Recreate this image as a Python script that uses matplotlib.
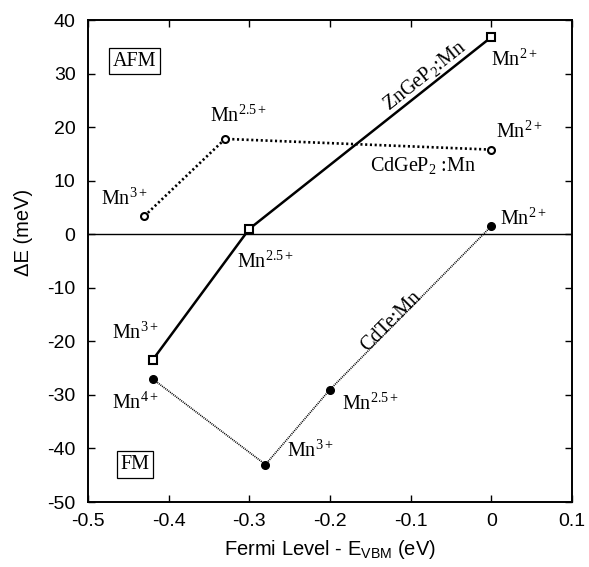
"""
Magnetic stabilisation energy vs Fermi level for Mn-doped semiconductors
"""
import matplotlib
matplotlib.use('Agg')
import matplotlib.pyplot as plt

plt.rcParams['font.family'] = ['Liberation Sans', 'DejaVu Sans']
plt.rcParams['mathtext.fontset'] = 'custom'
plt.rcParams['mathtext.rm'] = 'Liberation Serif'
plt.rcParams['mathtext.it'] = 'Liberation Serif:italic'
plt.rcParams['mathtext.sf'] = 'Liberation Sans'

# ============================================================================
# DATA
# ============================================================================
zngep2_x = [-0.42, -0.30, 0.0]
zngep2_y = [-23.5, 1.0, 36.8]

cdgep2_x = [-0.43, -0.33, 0.0]
cdgep2_y = [3.4, 17.8, 15.8]

cdte_x = [-0.42, -0.28, -0.20, 0.0]
cdte_y = [-27.0, -43.0, -29.0, 1.5]

# (text, x, y, horizontal alignment)
point_labels = [
    (r'Mn$^{2+}$', 0.0, 32.5, 'left'),
    (r'Mn$^{2+}$', 0.006, 19.0, 'left'),
    (r'Mn$^{2+}$', 0.011, 2.8, 'left'),
    (r'Mn$^{2.5+}$', -0.313, 22.0, 'center'),
    (r'Mn$^{3+}$', -0.455, 6.5, 'center'),
    (r'Mn$^{2.5+}$', -0.28, -5.3, 'center'),
    (r'Mn$^{3+}$', -0.442, -18.4, 'center'),
    (r'Mn$^{4+}$', -0.442, -31.6, 'center'),
    (r'Mn$^{3+}$', -0.224, -40.6, 'center'),
    (r'Mn$^{2.5+}$', -0.15, -31.7, 'center'),
]

# ============================================================================
# PLOT
# ============================================================================
fig = plt.figure(figsize=(5.89, 5.67), dpi=100)
ax = fig.add_axes([0.1494, 0.1146, 0.8216, 0.8501])

ax.axhline(0, color='black', lw=1.0)

ax.plot(zngep2_x, zngep2_y, '-', color='black', lw=1.8,
        marker='s', ms=5.5, mfc='white', mec='black', mew=1.5)
ax.plot(cdgep2_x, cdgep2_y, color='black', lw=1.9, linestyle=(0, (0.8, 1.0)),
        marker='o', ms=5, mfc='white', mec='black', mew=1.5)
ax.plot(cdte_x, cdte_y, color='black', lw=1.2, linestyle=(0, (0.6, 0.6)),
        marker='o', ms=5.5, mfc='black', mec='black')

serif = dict(family='Liberation Serif', fontsize=14.5, color='black', va='center')
for txt, x, y, ha in point_labels:
    ax.text(x, y, txt, ha=ha, **serif)

ax.text(-0.083, 29.6, r'ZnGeP$_2$:Mn', rotation=38.5, ha='center', **serif)
ax.text(-0.085, 12.9, r'CdGeP$_2$ :Mn', ha='center', **serif)
ax.text(-0.124, -16.4, r'CdTe:Mn', rotation=45, ha='center', **serif)

box = dict(boxstyle='square,pad=0.18', fc='white', ec='black', lw=0.9)
ax.text(-0.442, 32.3, 'AFM', ha='center', bbox=box, **serif)
ax.text(-0.442, -43.0, 'FM', ha='center', bbox=box, **serif)

ax.set_xlim(-0.5, 0.1)
ax.set_ylim(-50, 40)
ax.set_xticks([-0.5, -0.4, -0.3, -0.2, -0.1, 0, 0.1])
ax.set_xticklabels(['-0.5', '-0.4', '-0.3', '-0.2', '-0.1', '0', '0.1'])
ax.set_yticks(range(-50, 41, 10))
ax.set_yticklabels([str(v) for v in range(-50, 41, 10)])
ax.tick_params(direction='in', top=True, right=True, length=5, width=1,
               labelsize=14)
ax.tick_params(axis='x', pad=8)
ax.tick_params(axis='y', pad=9)
for s in ax.spines.values():
    s.set_linewidth(1.4)

ax.set_xlabel(r'Fermi Level - E$_{\mathsf{VBM}}$ (eV)', fontsize=14.5, labelpad=6)
ax.set_ylabel('ΔE (meV)', fontsize=14.5)
ax.yaxis.set_label_coords(-0.114, 0.56)

fig.savefig('out.png', dpi=100)
